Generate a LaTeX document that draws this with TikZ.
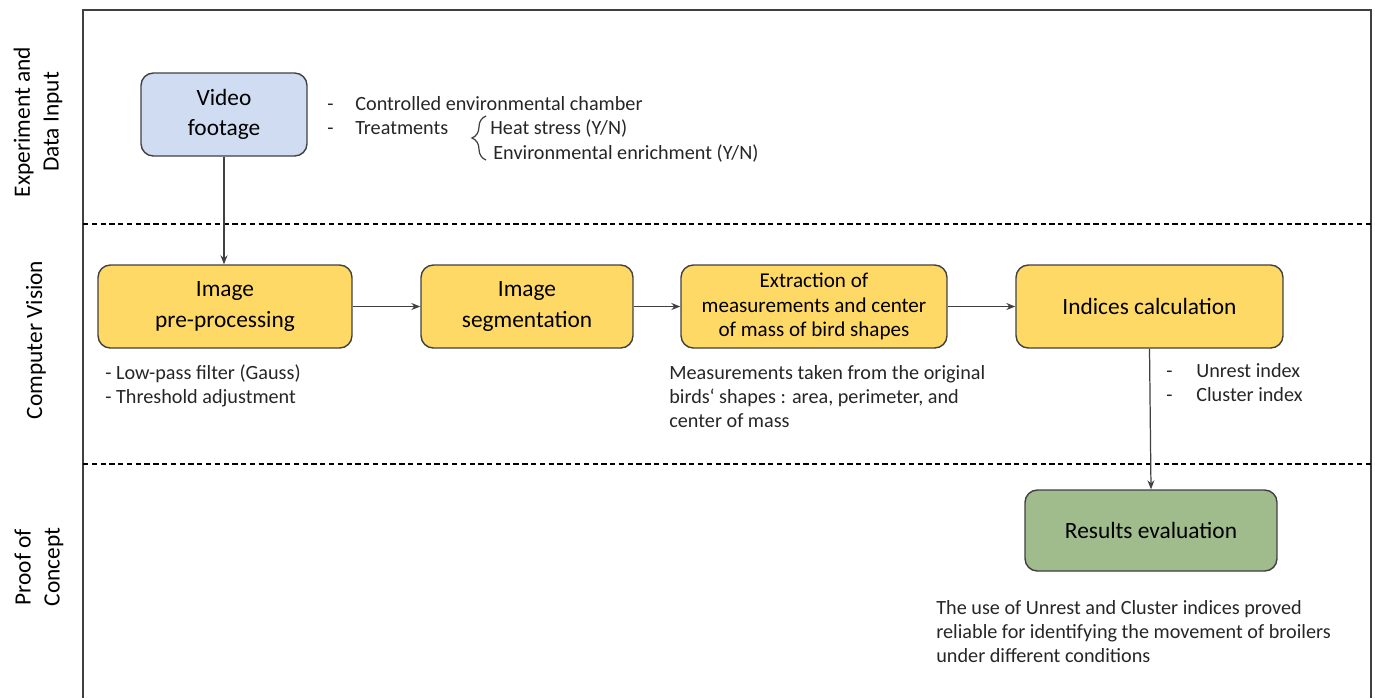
\documentclass[tikz,border=0pt]{standalone}
\usepackage{fontspec}
\setmainfont{Carlito}
\usepackage{xcolor}
\usepackage{tikz}
\usetikzlibrary{arrows.meta, positioning, decorations.pathreplacing}
\definecolor{inputcolor}{RGB}{208,220,241}
\definecolor{visioncolor}{RGB}{255,217,102}
\definecolor{resultcolor}{RGB}{160,187,140}
\definecolor{edgecolor}{RGB}{64,64,64}

\begin{document}
\begin{tikzpicture}[
    x=0.02cm, y=-0.02cm,
    stage/.style={draw=edgecolor, line width=0.8pt, rounded corners=7pt, minimum height=1.66cm, align=center, inner sep=2pt, font=\fontsize{13.3}{17.5}\selectfont},
    flow/.style={-{Stealth[length=1.8mm, width=1.4mm]}, line width=0.7pt, edgecolor},
    note/.style={font=\fontsize{11.5}{13.6}\selectfont, align=left, inner sep=0pt, text=black!85},
    lane/.style={font=\fontsize{13.3}{16.4}\selectfont, align=center, rotate=90},
    divider/.style={dash pattern=on 3pt off 2pt, line width=0.7pt}
]
    \useasboundingbox (0,0) rectangle (1375,698);

    % Frame and lanes
    \draw[edgecolor, line width=1pt] (83,698) -- (83,10) -- (1371,10) -- (1371,698);
    \draw[divider] (83,224) -- (1371,224);
    \draw[divider] (83,464) -- (1371,464);
    \node[lane] (lane1) at (38,122) {Experiment and\\Data Input};
    \node[lane] (lane2) at (36,340) {Computer Vision};
    \node[lane] (lane3) at (39,567) {Proof of\\Concept};

    % Stages
    \node[stage, fill=inputcolor, minimum width=3.32cm] (video) at (224,114.5) {Video\\footage};
    \node[stage, fill=visioncolor, minimum width=5.08cm] (preproc) at (225,306.5) {Image\\pre-processing};
    \node[stage, fill=visioncolor, minimum width=4.24cm] (segment) at (527,306.5) {Image\\segmentation};
    \node[stage, fill=visioncolor, minimum width=5.32cm, font=\fontsize{12}{14}\selectfont] (extract) at (814,306.5) {Extraction of\\measurements and center\\of mass of bird shapes};
    \node[stage, fill=visioncolor, minimum width=5.34cm] (indices) at (1149.5,306.5) {Indices calculation};
    \node[stage, fill=resultcolor, minimum width=5.04cm, minimum height=1.62cm] (results) at (1151,530.5) {Results evaluation};

    % Flow
    \draw[flow] (video) -- (video |- preproc.north);
    \draw[flow] (preproc) -- (segment);
    \draw[flow] (segment) -- (extract);
    \draw[flow] (extract) -- (indices);
    \draw[flow] (indices.south) -- (results.north);

    % Notes
    \node[note, anchor=base west] (chamber) at (327,110) {\makebox[0.56cm][l]{-}Controlled environmental chamber};
    \node[note, anchor=base west] (treat) at (327,134) {\makebox[0.56cm][l]{-}Treatments};
    \node[note, anchor=base west] (heat) at (490,134) {Heat stress (Y/N)};
    \node[note, anchor=base west] (enrich) at (493,159) {Environmental enrichment (Y/N)};
    \draw[edgecolor, line width=0.7pt, decorate, decoration={brace, amplitude=8pt}] (486,160) -- (486,116);
    \node[note, anchor=base west] (filters) at (105,403) {- Low-pass filter (Gauss)\\- Threshold adjustment};
    \node[note, anchor=base west] (shapes) at (669,427) {Measurements taken from the original\\birds\symbol{96} shapes : area, perimeter, and\\center of mass};
    \node[note, anchor=base west] (indexlist) at (1166,401) {\makebox[0.6cm][l]{-}Unrest index\\\makebox[0.6cm][l]{-}Cluster index};
    \node[note, anchor=base west] (verdict) at (936,662) {The use of Unrest and Cluster indices proved\\reliable for identifying the movement of broilers\\under different conditions};
\end{tikzpicture}
\end{document}
